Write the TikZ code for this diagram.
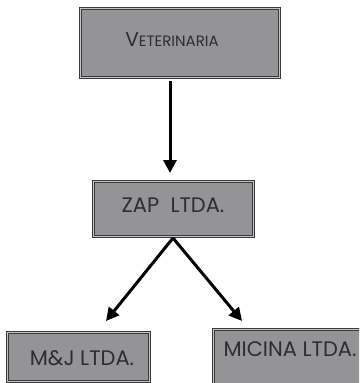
\documentclass[tikz,border=0pt]{standalone}
\usepackage{fontspec}
\setmainfont{Poppins}
\usetikzlibrary{arrows.meta}
\definecolor{boxfill}{HTML}{949497}
\definecolor{boxedge}{HTML}{3A3A3C}
\definecolor{boxtext}{HTML}{2E2E30}
\tikzset{
  orgbox/.style={draw=boxedge, double=boxfill!55!white, double distance=1pt,
    line width=1pt, fill=boxfill, text=boxtext, inner sep=0pt},
  label/.style={text=boxtext, font=\fontsize{21}{23}\selectfont},
  link/.style={line width=3pt, -{Triangle[length=13pt,width=13pt]}},
}
\begin{document}
\begin{tikzpicture}[x=1pt,y=-1pt]
  \useasboundingbox (0,0) rectangle (359,383);
  \clip (0,0) rectangle (359,383);
  % boxes
  \path[orgbox] (80,8) rectangle (279,77);
  \path[orgbox] (93,181) rectangle (253,236);
  \path[orgbox] (7,332) rectangle (149,381);
  \path[orgbox] (213,329) rectangle (375,400);
  % labels
  \node[text=boxtext, font=\fontsize{20}{22}\selectfont] (vet) at (172,40)
    {V{\fontsize{15}{16}\selectfont ETERINARIA}};
  \node[label] (zap) at (173,205) {ZAP\ \ LTDA.};
  \node[label] (mj) at (82,358) {M\&J LTDA.};
  \node[label] (mic) at (290,349) {MICINA LTDA.};
  % connectors
  \coordinate (vetout) at (170,81);
  \coordinate (zapin) at (170,173);
  \coordinate (zapout) at (173,238);
  \coordinate (mjin) at (106,321);
  \coordinate (micin) at (242,321);
  \draw[link] (vetout) -- (zapin);
  \draw[link] (zapout) -- (mjin);
  \draw[link] (zapout) -- (micin);
\end{tikzpicture}
\end{document}
